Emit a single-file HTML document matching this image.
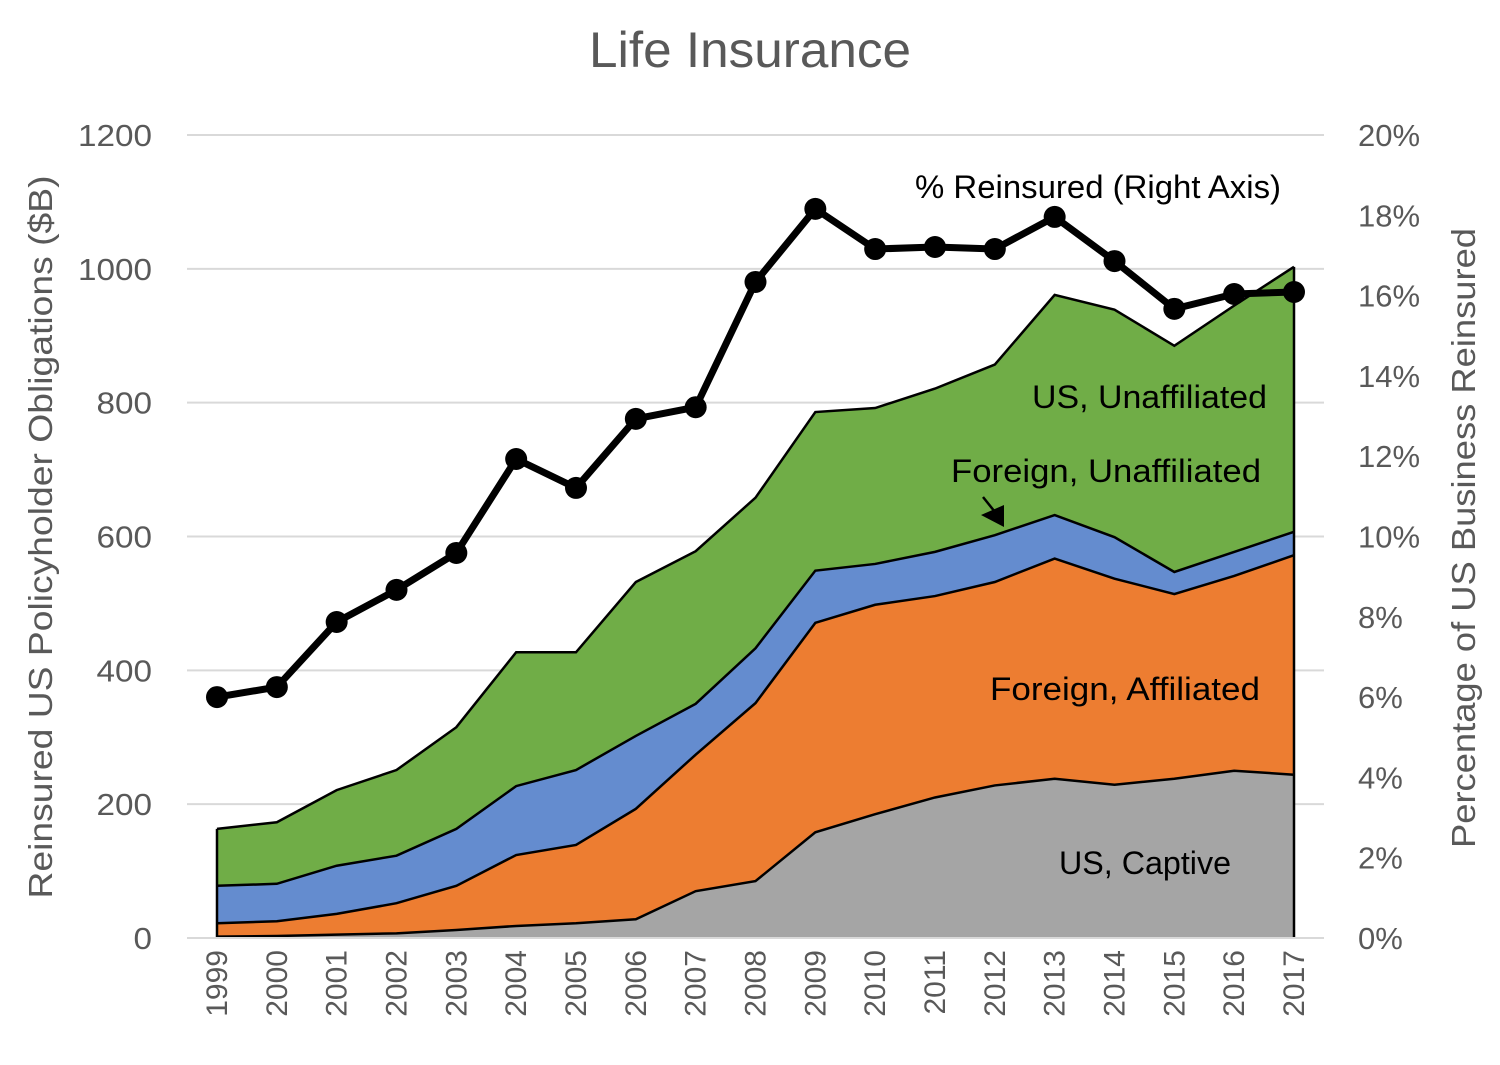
<!DOCTYPE html>
<html><head><meta charset="utf-8"><style>
body{margin:0;background:#fff;}
svg text{font-family:"Liberation Sans",sans-serif;}
</style></head><body>
<svg id="chart" width="1500" height="1060" viewBox="0 0 1500 1060" xmlns="http://www.w3.org/2000/svg"></svg>
<script>
const years=[1999,2000,2001,2002,2003,2004,2005,2006,2007,2008,2009,2010,2011,2012,2013,2014,2015,2016,2017];
const usCaptive=[2,3,5,7,12,18,22,28,70,85,158,185,210,228,238,229,238,250,244];
const foreignAffiliated=[20,22,31,45,66,106,117,165,204,266,313,313,301,304,329,308,276,291,328];
const foreignUnaffiliated=[56,56,72,71,85,103,112,109,76,82,78,61,66,70,65,62,33,36,35];
const usUnaffiliated=[85,92,113,128,152,200,176,230,228,225,237,233,244,255,329,340,338,368,396];
const pctReinsured=[6.0,6.25,7.87,8.67,9.59,11.93,11.21,12.93,13.22,16.34,18.16,17.16,17.21,17.16,17.96,16.86,15.67,16.04,16.09];
const leftTicks=[0,200,400,600,800,1000,1200];
const rightTicks=[0,2,4,6,8,10,12,14,16,18,20];

const svg=document.getElementById('chart');
const NS='http://www.w3.org/2000/svg';
const x0=217,x1=1294,yB=938,yT=135;
const xs=i=>x0+(x1-x0)*i/(years.length-1);
const yl=v=>yB-(yB-yT)*v/1200;
const yr=v=>yB-(yB-yT)*v/20;
function mk(tag,attrs,parent){const e=document.createElementNS(NS,tag);for(const k in attrs)e.setAttribute(k,attrs[k]);(parent||svg).appendChild(e);return e;}

let t=mk('text',{x:750,y:67,'text-anchor':'middle','font-size':50,fill:'#595959',textLength:322,lengthAdjust:'spacingAndGlyphs'});t.textContent='Life Insurance';



leftTicks.forEach(v=>{
  const g=mk('line',{x1:187,x2:1324,y1:yl(v),y2:yl(v),stroke:'#d9d9d9','stroke-width':2});
  
  
  const s=String(v);
  const tx=mk('text',{x:152,y:yl(v)+11,'text-anchor':'end','font-size':31,fill:'#595959',textLength:s.length*18.5,lengthAdjust:'spacingAndGlyphs'});tx.textContent=s;
  
  
});
rightTicks.forEach(v=>{
  const tx=mk('text',{x:1358,y:yr(v)+11,'text-anchor':'start','font-size':31,fill:'#595959'});tx.textContent=v+'%';
  
  
});
years.forEach((y,i)=>{
  const tx=mk('text',{x:0,y:0,'text-anchor':'end','font-size':30,fill:'#595959',transform:`translate(${xs(i)+10},950) rotate(-90)`});tx.textContent=y;
  
  
});

const series=[[usCaptive,'#a5a5a5','area-us-captive'],[foreignAffiliated,'#ed7d31','area-foreign-affiliated'],[foreignUnaffiliated,'#648ccf','area-foreign-unaffiliated'],[usUnaffiliated,'#70ad47','area-us-unaffiliated']];
let base=years.map(()=>0);
const paths=[];
series.forEach(([vals,col,name])=>{
  const top=base.map((b,i)=>b+vals[i]);
  let d='M'+years.map((_,i)=>xs(i)+','+yl(top[i])).join(' L');
  for(let i=years.length-1;i>=0;i--) d+=' L'+xs(i)+','+yl(base[i]);
  d+='Z';
  const p=mk('path',{d:d,fill:col,stroke:'none'});
  
  
  paths.push(top);
  base=top;
});
paths.forEach(top=>{
  const pl=mk('polyline',{points:years.map((_,i)=>xs(i)+','+yl(top[i])).join(' '),fill:'none',stroke:'#000','stroke-width':2.5});
  
  
});
const edge=mk('line',{x1:x1,x2:x1,y1:yl(base[base.length-1]),y2:yB,stroke:'#000','stroke-width':2.5});


const edgeL=mk('line',{x1:x0,x2:x0,y1:yl(base[0]),y2:yB,stroke:'#000','stroke-width':2.5});



const ax=mk('line',{x1:187,x2:1324,y1:yB,y2:yB,stroke:'#d9d9d9','stroke-width':2});



const ln=mk('polyline',{points:pctReinsured.map((v,i)=>xs(i)+','+yr(v)).join(' '),fill:'none',stroke:'#000','stroke-width':7,'stroke-linejoin':'round'});


pctReinsured.forEach((v,i)=>{
  const c=mk('circle',{cx:xs(i),cy:yr(v),r:11,fill:'#000'});
  
  
});

function lab(txt,x,y,w,name){const e=mk('text',{x:x-w,y:y,'text-anchor':'start','font-size':32,fill:'#000',textLength:w,lengthAdjust:'spacingAndGlyphs'});e.textContent=txt;
  
  }
lab('% Reinsured (Right Axis)',1281,198,366,'label-pct-reinsured');
lab('US, Unaffiliated',1267,408,235,'label-us-unaffiliated');
lab('Foreign, Unaffiliated',1261,482,310,'label-foreign-unaffiliated');
lab('Foreign, Affiliated',1260,700,270,'label-foreign-affiliated');
lab('US, Captive',1231,874,172,'label-us-captive');
const ar=mk('line',{x1:983,y1:497,x2:995,y2:512,stroke:'#000','stroke-width':2.5});


const ah=mk('polygon',{points:'981,515 1004,505 1004,527',fill:'#000'});



const lt=mk('text',{x:0,y:0,'text-anchor':'middle','font-size':33,fill:'#595959',textLength:723,lengthAdjust:'spacingAndGlyphs',transform:'translate(52,537) rotate(-90)'});lt.textContent='Reinsured US Policyholder Obligations ($B)';


const rt=mk('text',{x:0,y:0,'text-anchor':'middle','font-size':33,fill:'#595959',textLength:620,lengthAdjust:'spacingAndGlyphs',transform:'translate(1475,538) rotate(-90)'});rt.textContent='Percentage of US Business Reinsured';


</script>
</body></html>
